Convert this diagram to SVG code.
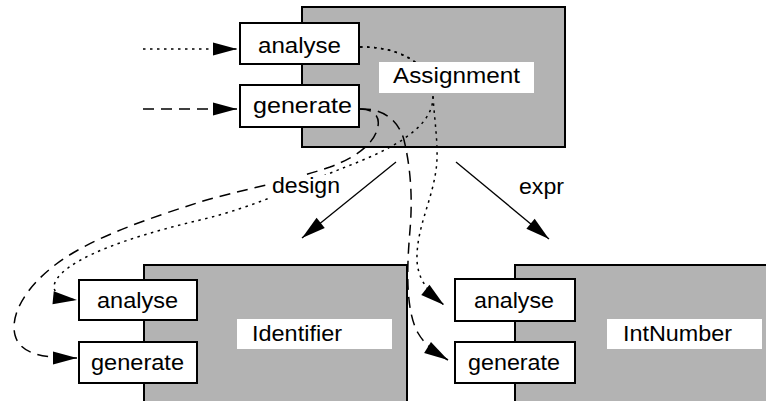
<svg xmlns="http://www.w3.org/2000/svg" width="766" height="401" viewBox="0 0 766 401">
  <style>
    .frame { fill: #b3b3b3; stroke: #000; stroke-width: 2; }
    .port { fill: #fff; stroke: #000; stroke-width: 2; }
    .tag { fill: #fff; stroke: none; }
    text { font-family: "Liberation Sans", Arial, Helvetica, sans-serif; font-size: 22px; fill: #000; }
    .edge { fill: none; stroke: #000; stroke-width: 1.5; }
    .dot { stroke-dasharray: 2.5 4.5; }
    .dash { stroke-dasharray: 11 7; }
    .solid { stroke-width: 1.3; }
    .flow { marker-end: url(#head); }
  </style>
  <defs>
    <marker id="head" markerUnits="userSpaceOnUse" markerWidth="24" markerHeight="13" refX="24" refY="6.5" orient="auto" overflow="visible">
      <path d="M0,0 L24,6.5 L0,13 z" fill="#000"/>
    </marker>
  </defs>
  <rect width="766" height="401" fill="#fff"/>

  <!-- component frames with their analyse/generate ports -->
  <g id="assignment">
    <rect class="frame" x="302" y="7" width="263" height="140"/>
    <rect class="port" x="240" y="23" width="119" height="41"/>
    <rect class="port" x="240" y="85" width="119" height="42"/>
  </g>
  <g id="identifier">
    <rect class="frame" x="144" y="265" width="263" height="150"/>
    <rect class="port" x="79" y="280" width="118" height="40"/>
    <rect class="port" x="79" y="342" width="118" height="41"/>
  </g>
  <g id="intnumber">
    <rect class="frame" x="515" y="265" width="270" height="150"/>
    <rect class="port" x="455" y="279" width="120" height="42"/>
    <rect class="port" x="455" y="342" width="120" height="41"/>
  </g>

  <!-- connectors -->
  <g id="connectors">
    <!-- incoming calls -->
    <path class="edge dot flow" d="M143,49 H237"/>
    <path class="edge dash flow" d="M143,109 H237"/>
    <!-- analyse propagation -->
    <path class="edge dot flow" d="M360,47 C395,46 433,62 433,97 C433,130 385,152 343,168 C300,185 255,207 200,220 C150,232 95,248 68,268 C50,281 46,297 77,300"/>
    <path class="edge dot flow" d="M360,47 C395,46 433,62 433,97 C435,125 439,150 436,170 C432,200 418,225 417,255 C416,278 428,292 444,305"/>
    <!-- generate propagation -->
    <path class="edge dash flow" d="M360,109 C372,109 380,115 378,126 C376,140 362,155 330,167 C290,181 240,190 200,202 C150,218 90,238 55,265 C25,288 10,315 15,335 C20,355 45,358 77,358"/>
    <path class="edge dash flow" d="M360,109 C380,108 398,118 404,140 C410,165 413,195 410,230 C407,265 405,310 418,333 C425,345 435,352 448,360"/>
    <!-- structural links -->
    <path class="edge solid flow" d="M396,162 L302,238"/>
    <path class="edge solid flow" d="M456,162 L549,239"/>
    <!-- link labels -->
    <rect class="tag" x="270" y="175" width="72" height="27"/>
    <text x="272" y="193" textLength="68" lengthAdjust="spacingAndGlyphs">design</text>
    <text x="519" y="194" textLength="45" lengthAdjust="spacingAndGlyphs">expr</text>
  </g>

  <!-- names and port captions -->
  <g id="assignment-labels">
    <text x="258" y="53" textLength="83" lengthAdjust="spacingAndGlyphs">analyse</text>
    <text x="253" y="113" textLength="99" lengthAdjust="spacingAndGlyphs">generate</text>
    <rect class="tag" x="379" y="62" width="155" height="31"/>
    <text x="393" y="83" textLength="127" lengthAdjust="spacingAndGlyphs">Assignment</text>
  </g>
  <g id="identifier-labels">
    <text x="97" y="308" textLength="81" lengthAdjust="spacingAndGlyphs">analyse</text>
    <text x="91" y="370" textLength="93" lengthAdjust="spacingAndGlyphs">generate</text>
    <rect class="tag" x="237" y="319" width="155" height="30"/>
    <text x="252" y="341" textLength="90" lengthAdjust="spacingAndGlyphs">Identifier</text>
  </g>
  <g id="intnumber-labels">
    <text x="474" y="308" textLength="80" lengthAdjust="spacingAndGlyphs">analyse</text>
    <text x="468" y="370" textLength="92" lengthAdjust="spacingAndGlyphs">generate</text>
    <rect class="tag" x="607" y="319" width="155" height="30"/>
    <text x="623" y="341" textLength="109" lengthAdjust="spacingAndGlyphs">IntNumber</text>
  </g>
</svg>
